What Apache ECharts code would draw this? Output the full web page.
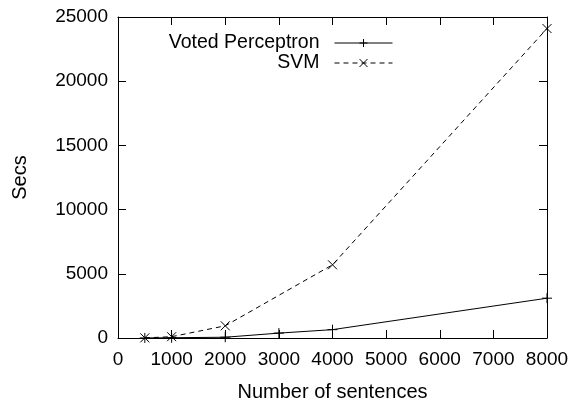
<!DOCTYPE html>
<html>
<head>
<meta charset="utf-8">
<script src="https://cdn.jsdelivr.net/npm/echarts@6/dist/echarts.min.js"></script>
<style>
  html, body { margin: 0; padding: 0; background: #fff; }
  #chart { width: 578px; height: 401px; }
</style>
</head>
<body>
<div id="chart"></div>
<script>
// values
var sentences = [500, 1000, 2000, 3000, 4000, 8000];
var perceptronSecs = [5, 20, 60, 380, 650, 3100];
var svmSentences = [500, 1000, 2000, 4000, 8000];
var svmSecs = [10, 100, 950, 5700, 24100];

var xTicks = { min: 0, max: 8000, step: 1000 };
var yTicks = { min: 0, max: 25000, step: 5000 };

var PLUS = 'path://M0,5L10,5M5,0L5,10';
var CROSS = 'path://M0,0L10,10M10,0L0,10';
var FONT = 'Liberation Sans, Arial, sans-serif';

function pairs(xs, ys) {
    return xs.map(function (x, i) { return [x, ys[i]]; });
}

// gnuplot style: box round the plot, ticks pointing inwards on all four sides
function axisBase(t, show) {
    return {
        type: 'value',
        min: t.min,
        max: t.max,
        interval: t.step,
        splitLine: { show: false },
        axisLine: { show: true, onZero: false, lineStyle: { color: '#000', width: 1 } },
        axisTick: { show: true, inside: true, length: 8, lineStyle: { color: '#000', width: 1 } },
        axisLabel: {
            show: show, color: '#000', fontSize: 19, fontFamily: FONT,
            formatter: function (v) { return String(v); }
        }
    };
}

var xBottom = axisBase(xTicks, true);
xBottom.position = 'bottom';
xBottom.name = 'Number of sentences';
xBottom.nameLocation = 'middle';
xBottom.nameGap = 44;
xBottom.nameTextStyle = { color: '#000', fontSize: 20, fontFamily: FONT };
xBottom.axisLabel.margin = 12;

var xTop = axisBase(xTicks, false);
xTop.position = 'top';

var yLeft = axisBase(yTicks, true);
yLeft.position = 'left';
yLeft.name = 'Secs';
yLeft.nameLocation = 'middle';
yLeft.nameGap = 88;
yLeft.nameTextStyle = { color: '#000', fontSize: 20, fontFamily: FONT };
yLeft.axisLabel.margin = 10;

var yRight = axisBase(yTicks, false);
yRight.position = 'right';

function legendFor(name, top) {
    return {
        data: [name],
        right: 180,
        top: top,
        align: 'right',
        itemWidth: 58,
        itemHeight: 10,
        selectedMode: false,
        lineStyle: { width: 1 },
        itemStyle: { borderWidth: 1 },
        textStyle: { color: '#000', fontSize: 19.5, fontFamily: FONT, padding: [0, 10, 0, 0] }
    };
}

var chart = echarts.init(document.getElementById('chart'));
chart.setOption({
    animation: false,
    backgroundColor: '#fff',
    grid: { left: 118, right: 31, top: 17, bottom: 63, outerBoundsMode: 'none' },
    legend: [legendFor('Voted Perceptron', 28), legendFor('SVM', 48)],
    xAxis: [xBottom, xTop],
    yAxis: [yLeft, yRight],
    series: [
        {
            name: 'Voted Perceptron',
            type: 'line',
            data: pairs(sentences, perceptronSecs),
            symbol: PLUS,
            symbolSize: 10,
            showAllSymbol: true,
            lineStyle: { color: '#000', width: 1 },
            itemStyle: { color: 'transparent', borderColor: '#000', borderWidth: 1 }
        },
        {
            name: 'SVM',
            type: 'line',
            data: pairs(svmSentences, svmSecs),
            symbol: CROSS,
            symbolSize: 9,
            showAllSymbol: true,
            lineStyle: { color: '#000', width: 1, type: [5, 4] },
            itemStyle: { color: 'transparent', borderColor: '#000', borderWidth: 1 }
        }
    ]
});
</script>
</body>
</html>
